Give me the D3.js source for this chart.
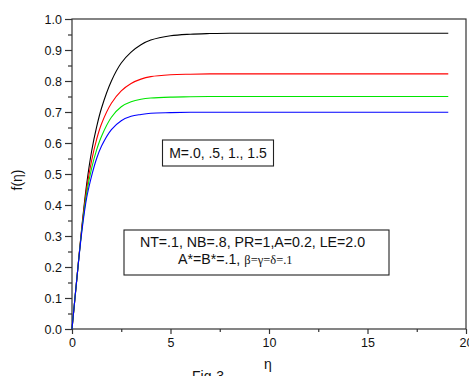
<!DOCTYPE html>
<html><head><meta charset="utf-8">
<script src="https://cdn.jsdelivr.net/npm/d3@7"></script>
<style>
html,body{margin:0;padding:0;background:#fff;overflow:hidden;}
svg{display:block;font-family:"Liberation Sans",Arial,sans-serif;}
</style></head>
<body>
<script>
const eta = [0,0.25,0.5,0.75,1,1.25,1.5,2,2.5,3,3.5,4,5,6,7,8,10,12,15,19.1];
const fM0  = [0,0.165,0.33,0.47,0.575,0.652,0.713,0.80,0.858,0.893,0.917,0.932,0.946,0.951,0.953,0.954,0.954,0.954,0.954,0.954];
const fM05 = [0,0.165,0.325,0.455,0.545,0.612,0.662,0.728,0.768,0.792,0.806,0.814,0.82,0.822,0.823,0.823,0.823,0.823,0.823,0.823];
const fM1  = [0,0.165,0.32,0.44,0.52,0.578,0.622,0.683,0.717,0.733,0.741,0.745,0.748,0.749,0.75,0.75,0.75,0.75,0.75,0.75];
const fM15 = [0,0.165,0.315,0.425,0.495,0.55,0.59,0.643,0.672,0.686,0.692,0.696,0.698,0.699,0.699,0.699,0.699,0.699,0.699,0.699];
const seriesNames = ["M=0","M=.5","M=1.","M=1.5"];
const seriesColors = ["#000000","#ff0000","#00e600","#0000ff"];
const xTicks = [0,5,10,15,20];
const yTicks = [0,0.1,0.2,0.3,0.4,0.5,0.6,0.7,0.8,0.9,1.0];

const W=469,H=376;
const svg=d3.select("body").append("svg").attr("width",W).attr("height",H);
const x=d3.scaleLinear().domain([0,20]).range([72,466]);
const y=d3.scaleLinear().domain([0,1]).range([329,19]);

// frame
svg.append("rect").attr("x",72).attr("y",19).attr("width",394).attr("height",310)
  .attr("fill","none").attr("stroke","#333").attr("stroke-width",1.2);

// axes
const yAxis=d3.axisLeft(y).tickValues(yTicks).tickFormat(d3.format(".1f")).tickSize(7).tickPadding(3);
svg.append("g").attr("transform","translate(72,0)").call(yAxis);
const yMinor=d3.axisLeft(y).tickValues(d3.range(0.05,1,0.1)).tickFormat("").tickSize(4);
svg.append("g").attr("transform","translate(72,0)").call(yMinor);
const xAxis=d3.axisBottom(x).tickValues(xTicks).tickFormat(d3.format("d")).tickSize(5).tickPadding(4);
svg.append("g").attr("transform","translate(0,329)").call(xAxis);
const xMinor=d3.axisBottom(x).tickValues([2.5,7.5,12.5,17.5]).tickFormat("").tickSize(3);
svg.append("g").attr("transform","translate(0,329)").call(xMinor);
svg.selectAll(".domain").remove();
svg.selectAll(".tick line").attr("stroke","#333").attr("stroke-width",1.2);
svg.selectAll(".tick text").attr("fill","#111").style("font-size","12.5px").style("font-family","'Liberation Sans',Arial,sans-serif");

// lines
const data=[fM0,fM05,fM1,fM15];
const line=d3.line().x((d,i)=>x(eta[i])).y(d=>y(d)).curve(d3.curveCatmullRom.alpha(0.5));
data.forEach((s,k)=>{
  svg.append("path").datum(s).attr("d",line).attr("fill","none")
    .attr("stroke",seriesColors[k]).attr("stroke-width",1.1).attr("data-name",seriesNames[k]);
});

// labels
svg.append("text").attr("transform","translate(22,180) rotate(-90)").attr("text-anchor","middle")
  .style("font-size","14px").attr("fill","#111").text("f(η)");
svg.append("text").attr("x",268).attr("y",369).attr("text-anchor","middle")
  .style("font-size","14px").attr("fill","#111").text("η");
svg.append("text").attr("x",208).attr("y",381).attr("text-anchor","middle")
  .style("font-size","14px").attr("fill","#111").text("Fig-3");

// legend box 1
svg.append("rect").attr("x",162.5).attr("y",140).attr("width",111).attr("height",26)
  .attr("fill","#fff").attr("stroke","#222").attr("stroke-width",1.1);
svg.append("text").attr("x",218).attr("y",158).attr("text-anchor","middle")
  .style("font-size","14px").attr("fill","#111").text("M=.0, .5, 1., 1.5");

// parameter box
svg.append("rect").attr("x",124).attr("y",230).attr("width",265).attr("height",45)
  .attr("fill","#fff").attr("stroke","#222").attr("stroke-width",1.1);
svg.append("text").attr("x",252.5).attr("y",247).attr("text-anchor","middle")
  .style("font-size","14.2px").attr("fill","#111").text("NT=.1, NB=.8, PR=1,A=0.2, LE=2.0");
const t2=svg.append("text").attr("x",178).attr("y",264).style("font-size","14.2px").attr("fill","#111");
t2.append("tspan").text("A*=B*=.1, ");
t2.append("tspan").style("font-family","'Liberation Serif','Times New Roman',serif").style("font-size","12.5px").text("β=γ=δ=.1");
</script>
</body></html>
